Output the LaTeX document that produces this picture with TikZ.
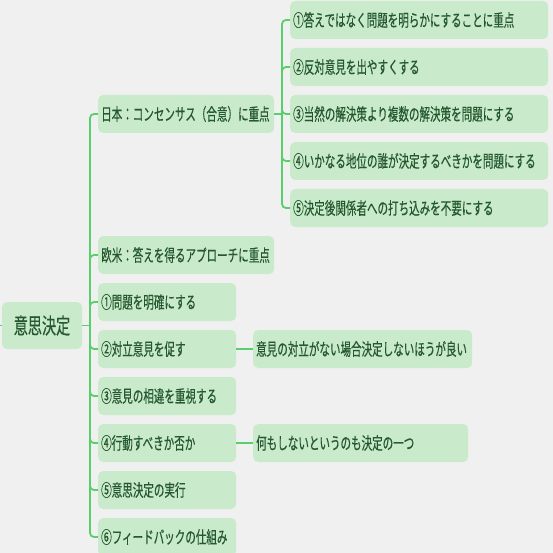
\documentclass[tikz,border=0pt]{standalone}
\usepackage{fontspec}
\newfontfamily\jp[FakeStretch=0.62, FakeBold=0.4]{Noto Sans CJK JP}
\newfontfamily\jproot[FakeStretch=0.64, FakeBold=0.4]{Noto Sans CJK JP}
\definecolor{bg}{HTML}{F0F0F0}
\definecolor{boxfill}{HTML}{C9EBCB}
\definecolor{boxtext}{HTML}{25582F}
\definecolor{linkc}{HTML}{56CF6C}
\tikzset{
  box/.style={rectangle, rounded corners=5pt, fill=boxfill, text=boxtext, anchor=west,
    inner xsep=3pt, inner ysep=0pt, minimum height=38pt, text width=#1, align=left,
    font=\jp\fontsize{17}{18}\selectfont},
  rootbox/.style={rectangle, rounded corners=5pt, fill=boxfill, text=boxtext,
    inner sep=0pt, minimum width=80pt, minimum height=47pt, align=center,
    font=\jproot\fontsize{22}{24}\selectfont},
  link/.style={draw=linkc, line width=1.8pt, rounded corners=4pt},
}
\begin{document}
\begin{tikzpicture}[x=1pt,y=-1pt]
\fill[bg] (0,0) rectangle (553,553);
\useasboundingbox (0,0) rectangle (553,553);
% root
\node[rootbox] (root) at (42,325.5) {意思決定};
\coordinate (stub) at (0,325.5);
\coordinate (trunkA) at (90,325.5);
% level 1
\node[box=170pt] (jp) at (98,114) {日本：コンセンサス（合意）に重点};
\node[box=170pt] (eu) at (98,255) {欧米：答えを得るアプローチに重点};
\node[box=132pt] (s1) at (98,302) {①問題を明確にする};
\node[box=132pt] (s2) at (98,349) {②対立意見を促す};
\node[box=132pt] (s3) at (98,396) {③意見の相違を重視する};
\node[box=132pt] (s4) at (98,443) {④行動すべきか否か};
\node[box=132pt] (s5) at (98,490) {⑤意思決定の実行};
\node[box=132pt] (s6) at (98,537) {⑥フィードバックの仕組み};
\coordinate (trunkB) at (282,114);
% Japan children
\node[box=252pt] (j1) at (290,20) {①答えではなく問題を明らかにすることに重点};
\node[box=252pt] (j2) at (290,67) {②反対意見を出やすくする};
\node[box=252pt] (j3) at (290,114) {③当然の解決策より複数の解決策を問題にする};
\node[box=252pt] (j4) at (290,161) {④いかなる地位の誰が決定するべきかを問題にする};
\node[box=252pt] (j5) at (290,208) {⑤決定後関係者への打ち込みを不要にする};
% level 2
\node[box=213pt] (s2a) at (253,349) {意見の対立がない場合決定しないほうが良い};
\node[box=209pt] (s4a) at (253,443) {何もしないというのも決定の一つ};
% connectors
\draw[link] (stub) -- (root.west);
\draw[link] (root.east) -- (trunkA);
\foreach \c in {jp,eu,s1,s2,s3,s4,s5,s6}
  \draw[link] (trunkA) |- (\c.west);
\draw[link] (jp.east) -- (trunkB);
\foreach \c in {j1,j2,j3,j4,j5}
  \draw[link] (trunkB) |- (\c.west);
\draw[link] (s2.east) -- (s2a.west);
\draw[link] (s4.east) -- (s4a.west);
\end{tikzpicture}
\end{document}
